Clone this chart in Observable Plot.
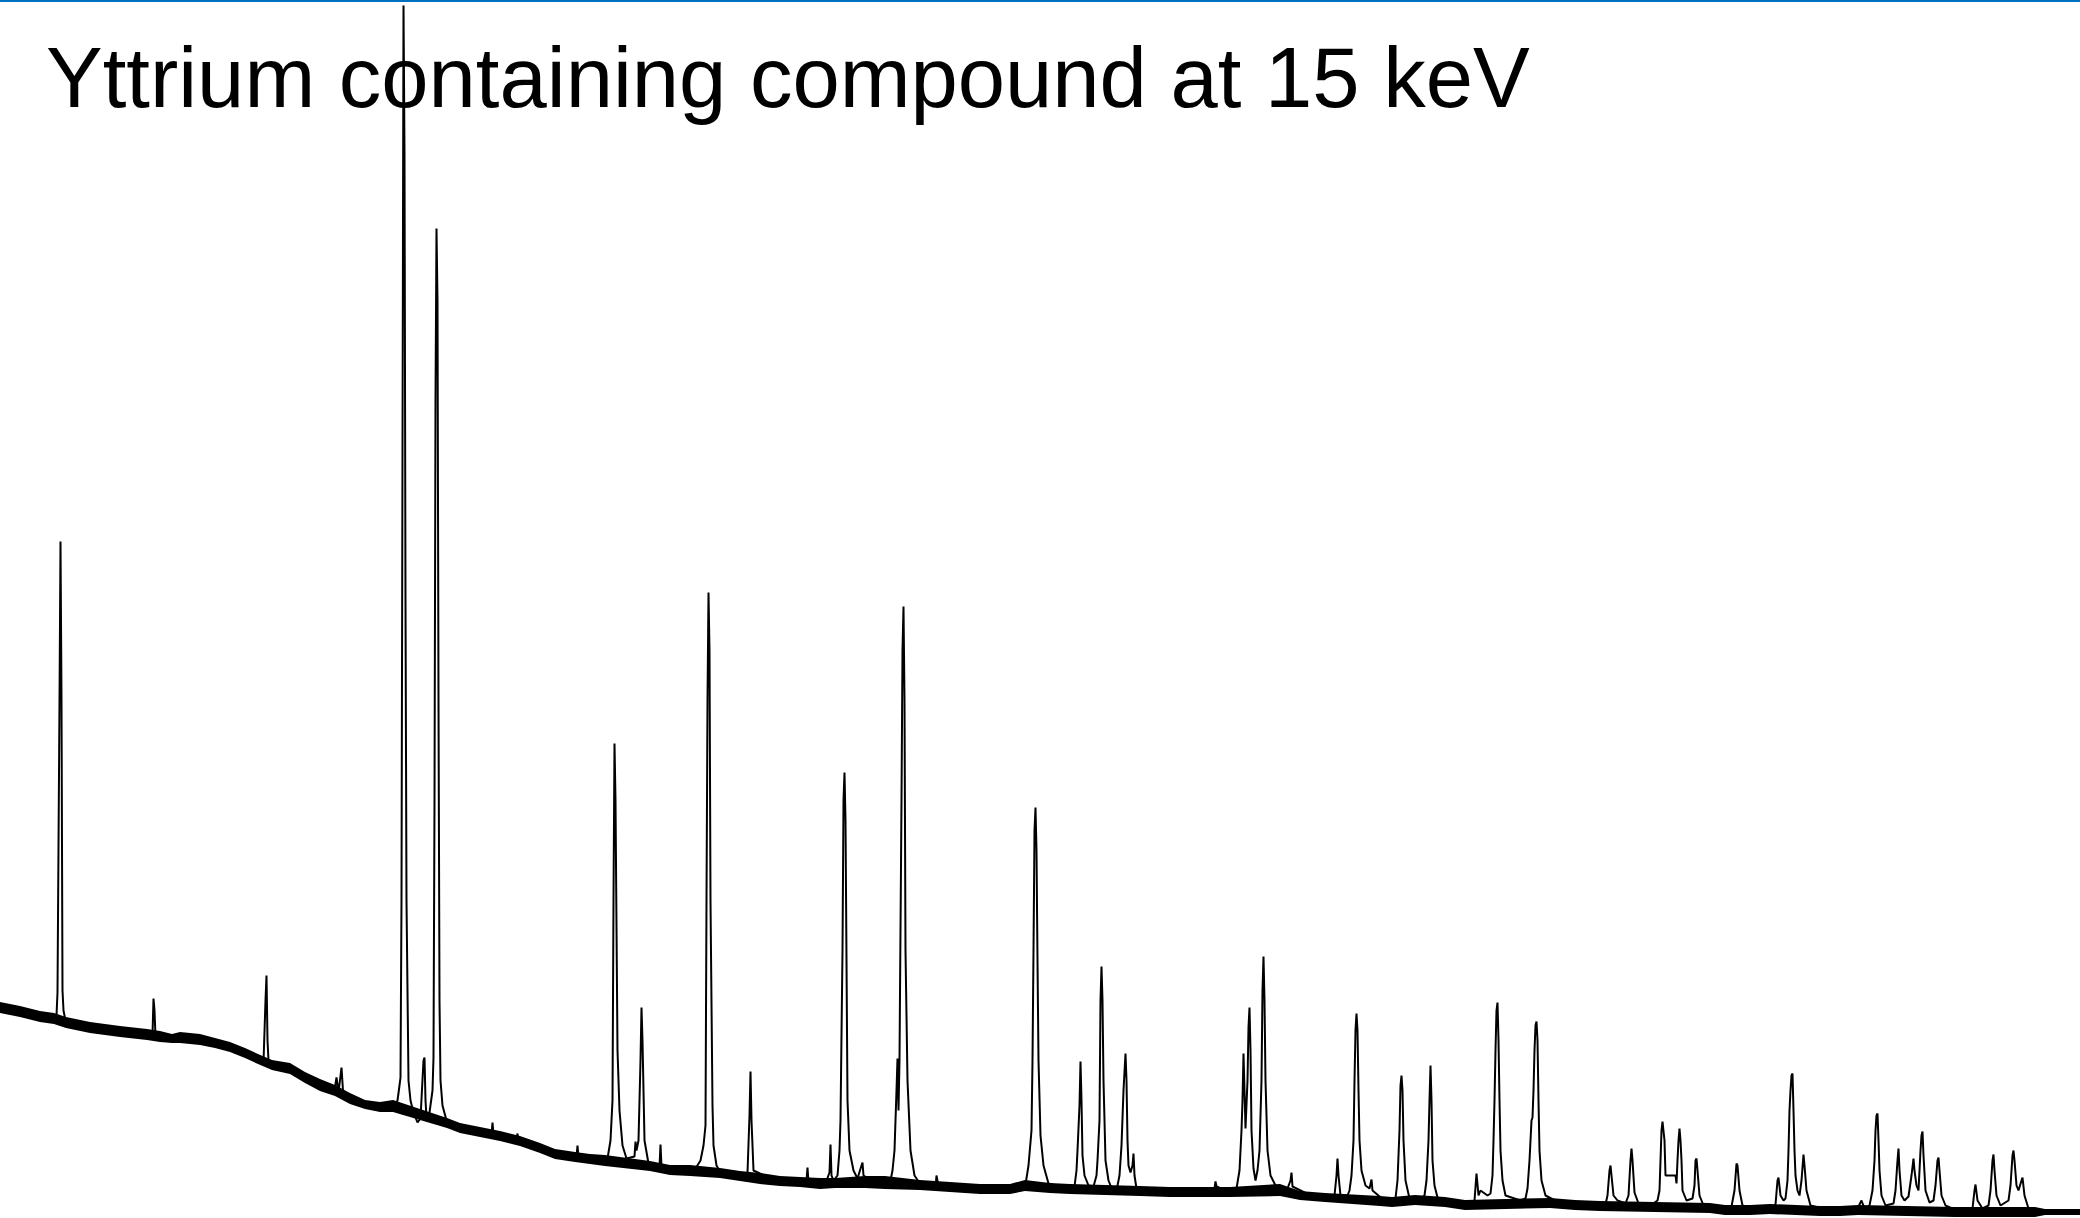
<!DOCTYPE html>
<html>
<head>
<meta charset="utf-8">
<script src="https://cdn.jsdelivr.net/npm/d3@7"></script>
<script src="https://cdn.jsdelivr.net/npm/@observablehq/plot@0.6"></script>
<style>
  html, body { margin: 0; padding: 0; background: #ffffff; }
  #wrap { position: relative; width: 2080px; height: 1218px; overflow: hidden; }
  #rule { position: absolute; left: 0; top: 0; width: 2080px; height: 2px; background: #0070C0; z-index: 2; }
  #title { position: absolute; left: 46px; top: 35px; font-family: "Liberation Sans", Arial, sans-serif; font-size: 85px; line-height: 1; color: #000; white-space: nowrap; z-index: 0; }
  #chart { position: absolute; left: 0; top: 0; z-index: 1; }
  #chart svg { background: transparent !important; }
</style>
</head>
<body>
<div id="wrap">
  <div id="rule"></div>
  <div id="title">Yttrium containing compound at 15 keV</div>
  <div id="chart"></div>
</div>
<script>
// Title text
const titleText = "Yttrium containing compound at 15 keV";

// Background noise envelope (channel, lower / upper intensity, a.u.)
const bandX  = [0, 20, 40, 54, 66, 90, 120, 147, 160, 172, 180, 200, 215, 230, 245, 258, 272, 290, 305, 320, 335, 350, 365, 380, 393, 447, 460, 480, 500, 520, 540, 555, 575, 590, 605, 650, 670, 690, 720, 740, 760, 780, 800, 820, 835, 865, 885, 920, 950, 980, 1010, 1025, 1050, 1070, 1140, 1170, 1200, 1230, 1280, 1300, 1325, 1380, 1392, 1415, 1445, 1465, 1550, 1575, 1600, 1710, 1725, 1750, 1770, 1820, 1840, 1858, 1955, 2035, 2045, 2080];
const bandHi = [216, 212, 207, 205, 201, 196, 192, 189, 187, 184, 186, 184, 180, 176, 170, 164, 158, 155, 146, 139, 133, 125, 118, 116, 118, 100, 95, 91, 87, 82, 75, 69, 66, 64, 63, 57, 53, 53, 50, 47, 45, 42, 41, 40, 40, 42, 42, 38, 36, 34, 34, 38, 35, 34, 32, 31, 31, 31, 34, 27, 25, 22, 21, 23, 21, 18, 20, 18, 17, 15, 13, 13, 14, 12, 12, 13, 11, 11, 9, 9];
const bandLo = [205, 201, 196, 194, 190, 185, 181, 178, 176, 175, 175, 173, 170, 166, 160, 154, 148, 144, 135, 127, 122, 114, 109, 106, 106, 90, 85, 81, 77, 72, 65, 59, 56, 54, 52, 47, 43, 42, 40, 37, 34, 32, 31, 29, 30, 30, 29, 28, 26, 24, 24, 27, 25, 24, 22, 21, 21, 21, 22, 18, 16, 12, 11, 13, 11, 8, 10, 8, 7, 5, 3, 3, 4, 2, 2, 3, 1, 1, 3, 3];

// Spectrum trace vertices (channel, intensity a.u.)
const specX = [0, 20, 40, 54, 56, 57, 59, 60, 61, 62, 63, 65, 90, 120, 150, 152, 153, 154, 155, 172, 200, 230, 258, 263, 265, 266, 267, 268, 290, 320, 334, 336, 338, 341, 343, 365, 393,
  397, 399, 400, 401, 402, 403, 404, 405, 406, 408, 410, 413, 417, 420, 423, 424, 425, 426, 429, 432, 433, 434, 435, 436, 437, 438, 439, 440, 442, 446,
  470, 491, 492, 493, 516, 517, 518, 540, 555, 576, 577, 578, 600, 607, 610, 612, 613, 614, 615, 617, 619, 622, 626, 634, 635, 636, 638, 640, 641, 642, 644, 648,
  659, 660, 661, 680, 695, 700, 703, 705, 706, 707, 708, 709, 710, 712, 713, 716, 720, 740, 747, 749, 750, 751, 753, 770, 800, 806, 807, 808, 825, 829, 830, 831, 833,
  837, 839, 840, 842, 843, 844, 845, 846, 847, 849, 853, 857, 861, 862, 863, 875, 890, 892, 894, 896, 897, 898, 899, 901, 902, 903, 904, 905, 907, 910, 914, 920,
  935, 936, 938, 960, 990, 1015, 1025, 1028, 1031, 1032, 1033, 1034, 1035, 1036, 1037, 1038, 1040, 1043, 1048, 1070, 1074, 1076, 1077, 1079, 1080, 1081, 1082, 1084, 1088,
  1093, 1096, 1097, 1099, 1100, 1101, 1102, 1103, 1105, 1108, 1112, 1116, 1119, 1121, 1123, 1125, 1126, 1127, 1128, 1130, 1132, 1133, 1134, 1136, 1160, 1190, 1214, 1215, 1216, 1230,
  1236, 1239, 1241, 1242, 1243, 1244, 1245, 1247, 1248, 1249, 1250, 1251, 1253, 1255, 1257, 1259, 1261, 1262, 1263, 1264, 1265, 1267, 1270, 1275, 1287, 1290, 1291, 1292, 1310, 1330,
  1334, 1336, 1337, 1338, 1340, 1347, 1349, 1351, 1353, 1354, 1355, 1356, 1357, 1358, 1359, 1361, 1365, 1369, 1371, 1372, 1385, 1395, 1397, 1399, 1400, 1401, 1402, 1403, 1405, 1409, 1418,
  1424, 1426, 1428, 1429, 1430, 1431, 1432, 1434, 1437, 1450, 1465, 1474, 1476, 1478, 1480, 1487, 1490, 1492, 1493, 1494, 1495, 1496, 1497, 1498, 1499, 1500, 1502, 1505, 1520,
  1525, 1527, 1529, 1531, 1532, 1533, 1534, 1535, 1536, 1537, 1538, 1539, 1541, 1545, 1560, 1580, 1598, 1605, 1607, 1609, 1610, 1611, 1613, 1617, 1625, 1628, 1630, 1631, 1632, 1634, 1638, 1650,
  1657, 1659, 1660, 1661, 1662, 1664, 1665, 1675, 1676, 1677, 1678, 1679, 1680, 1681, 1682, 1686, 1692, 1694, 1695, 1696, 1697, 1699, 1703, 1715, 1731, 1734, 1736, 1737, 1739, 1742, 1755, 1770,
  1775, 1777, 1778, 1780, 1783, 1785, 1787, 1788, 1789, 1790, 1791, 1792, 1793, 1794, 1795, 1797, 1799, 1801, 1803, 1804, 1806, 1810, 1830, 1850, 1858, 1861, 1864,
  1869, 1872, 1874, 1875, 1876, 1877, 1878, 1879, 1881, 1885, 1893, 1895, 1897, 1898, 1899, 1901, 1904, 1908, 1911, 1913, 1914, 1916, 1918, 1920, 1921, 1922, 1923, 1925, 1929,
  1933, 1935, 1937, 1938, 1939, 1941, 1945, 1960, 1972, 1974, 1975, 1977, 1982, 1988, 1990, 1992, 1993, 1994, 1996, 2000, 2008, 2010, 2012, 2013, 2014, 2016, 2018, 2021, 2022, 2024, 2028, 2040, 2045, 2080];
const specY = [211, 207, 202, 199, 203, 226, 518, 677, 518, 228, 208, 198, 191, 187, 183, 184, 220, 208, 182, 180, 179, 171, 159, 156, 218, 243, 178, 158, 150, 133, 128, 141, 126, 151, 120, 114, 112,
  118, 133, 141, 318, 768, 1213, 1066, 618, 318, 138, 118, 106, 96, 100, 158, 161, 118, 101, 106, 128, 161, 418, 818, 990, 918, 518, 218, 138, 113, 98,
  88, 84, 96, 84, 78, 85, 77, 70, 64, 62, 73, 61, 58, 60, 78, 118, 318, 475, 418, 168, 108, 73, 60, 62, 77, 68, 78, 158, 211, 178, 78, 55,
  52, 74, 52, 48, 50, 58, 73, 93, 318, 518, 626, 568, 318, 113, 73, 53, 46, 42, 46, 103, 147, 98, 48, 40, 36, 38, 51, 36, 35, 46, 74, 43, 38,
  43, 68, 98, 268, 418, 446, 398, 258, 118, 68, 48, 40, 53, 56, 43, 36, 38, 48, 68, 128, 160, 108, 158, 418, 568, 612, 518, 268, 138, 68, 43, 34,
  31, 43, 32, 31, 29, 30, 34, 53, 88, 158, 268, 388, 411, 368, 258, 158, 83, 53, 35, 29, 32, 48, 68, 113, 157, 118, 63, 43, 33,
  32, 43, 58, 98, 218, 252, 218, 138, 58, 38, 28, 28, 43, 73, 128, 165, 138, 78, 53, 46, 53, 65, 43, 30, 26, 26, 30, 37, 32, 26,
  30, 48, 88, 118, 165, 128, 90, 138, 191, 211, 168, 88, 50, 38, 48, 68, 138, 228, 262, 218, 138, 68, 43, 33, 30, 38, 46, 32, 23, 21,
  23, 43, 60, 43, 23, 23, 28, 43, 78, 138, 188, 205, 188, 128, 78, 48, 33, 30, 39, 28, 17, 20, 38, 88, 133, 143, 128, 78, 38, 20, 18,
  23, 38, 78, 118, 153, 118, 58, 33, 21, 14, 13, 18, 45, 23, 28, 23, 25, 43, 78, 118, 168, 208, 216, 178, 118, 68, 38, 23, 18,
  20, 30, 58, 98, 101, 128, 168, 193, 197, 178, 118, 68, 38, 23, 15, 13, 12, 14, 23, 48, 53, 43, 23, 18, 15, 23, 58, 70, 58, 26, 15, 13,
  18, 28, 58, 88, 97, 78, 43, 43, 35, 58, 78, 90, 78, 58, 28, 18, 20, 33, 58, 60, 48, 23, 13, 8, 12, 28, 55, 53, 28, 13, 8, 10,
  14, 38, 41, 23, 18, 20, 38, 68, 108, 128, 143, 145, 108, 68, 43, 28, 23, 38, 64, 53, 28, 13, 8, 8, 12, 18, 10,
  13, 28, 58, 88, 103, 105, 78, 48, 23, 13, 15, 28, 58, 70, 48, 23, 18, 22, 43, 60, 48, 33, 28, 68, 83, 87, 63, 28, 16,
  18, 33, 58, 61, 48, 23, 13, 6, 10, 28, 34, 18, 10, 13, 28, 58, 64, 48, 23, 13, 18, 33, 63, 68, 58, 33, 28, 38, 41, 23, 10, 7, 6, 6];

const band = bandX.map((x, i) => ({x, lo: bandLo[i], hi: bandHi[i]}));
const spec = specX.map((x, i) => ({x, y: specY[i]}));

const chart = Plot.plot({
  width: 2080,
  height: 1218,
  margin: 0,
  x: {domain: [0, 2080], axis: null},
  y: {domain: [0, 1218], axis: null},
  style: {background: "transparent", overflow: "visible"},
  marks: [
    Plot.areaY(band, {x: "x", y1: "lo", y2: "hi", fill: "#000", curve: "linear"}),
    Plot.line(spec, {x: "x", y: "y", stroke: "#000", strokeWidth: 2, strokeLinejoin: "miter", curve: "linear"})
  ]
});
document.getElementById("chart").appendChild(chart);
document.getElementById("title").textContent = titleText;
</script>
</body>
</html>
